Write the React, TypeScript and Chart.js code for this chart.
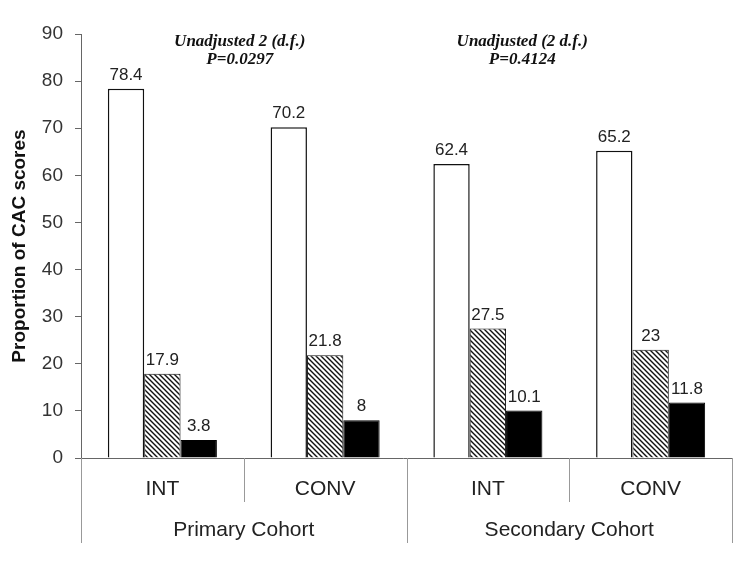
import React, { useEffect, useRef } from "react";
import { Chart, registerables } from "chart.js";

Chart.register(...registerables);

const categories = ["INT", "CONV", "INT", "CONV"];
const cohorts = ["Primary Cohort", "Secondary Cohort"];
const whiteValues = [78.4, 70.2, 62.4, 65.2];
const hatchedValues = [17.9, 21.8, 27.5, 23];
const blackValues = [3.8, 8, 10.1, 11.8];
const yMin = 0;
const yMax = 90;
const yStep = 10;
const yTitle = "Proportion of CAC scores";
const annotationLines = [
  ["Unadjusted 2 (d.f.)", "P=0.0297"],
  ["Unadjusted (2 d.f.)", "P=0.4124"],
];

function makeHatch(): CanvasPattern | string {
  const c = document.createElement("canvas");
  const s = 5;
  c.width = s;
  c.height = s;
  const g = c.getContext("2d");
  if (!g) return "#777";
  g.fillStyle = "#fff";
  g.fillRect(0, 0, s, s);
  g.strokeStyle = "#111";
  g.lineWidth = 1.4;
  g.beginPath();
  g.moveTo(-1, -1);
  g.lineTo(s + 1, s + 1);
  g.moveTo(-1 - s, -1);
  g.lineTo(1, s + 1);
  g.moveTo(s - 1, -1);
  g.lineTo(2 * s + 1, s + 1);
  g.stroke();
  const p = g.createPattern(c, "repeat");
  return p || "#777";
}

const overlayPlugin = {
  id: "overlay",
  afterDatasetsDraw(chart: any) {
    const ctx = chart.ctx;
    ctx.save();
    ctx.font = "17px Arial, 'Liberation Sans', sans-serif";
    ctx.fillStyle = "#222";
    ctx.textAlign = "center";
    ctx.textBaseline = "bottom";
    chart.data.datasets.forEach((ds: any, di: number) => {
      const meta = chart.getDatasetMeta(di);
      meta.data.forEach((el: any, i: number) => {
        ctx.fillText(String(ds.data[i]), el.x, el.y - 5);
      });
    });
    ctx.restore();
  },
  afterDraw(chart: any) {
    const ctx = chart.ctx;
    const area = chart.chartArea;
    const xs = chart.scales.x;
    const bottom = area.bottom;
    ctx.save();
    // x axis line
    ctx.strokeStyle = "#666";
    ctx.lineWidth = 1;
    ctx.beginPath();
    ctx.moveTo(area.left - 6, bottom + 0.5);
    ctx.lineTo(area.right, bottom + 0.5);
    ctx.stroke();
    // category boundaries
    const n = categories.length;
    const bounds: number[] = [];
    for (let i = 0; i <= n; i++) {
      if (i === 0) bounds.push(area.left);
      else if (i === n) bounds.push(area.right);
      else bounds.push((xs.getPixelForValue(i - 1) + xs.getPixelForValue(i)) / 2);
    }
    ctx.strokeStyle = "#999";
    bounds.forEach((bx, i) => {
      const long = i % 2 === 0;
      ctx.beginPath();
      ctx.moveTo(Math.round(bx) + 0.5, bottom);
      ctx.lineTo(Math.round(bx) + 0.5, bottom + (long ? 85 : 44));
      ctx.stroke();
    });
    // category labels
    ctx.fillStyle = "#222";
    ctx.textAlign = "center";
    ctx.textBaseline = "middle";
    ctx.font = "21px Arial, 'Liberation Sans', sans-serif";
    categories.forEach((c, i) => {
      ctx.fillText(c, xs.getPixelForValue(i), bottom + 31);
    });
    cohorts.forEach((c, g) => {
      const cx = (bounds[g * 2] + bounds[g * 2 + 2]) / 2;
      ctx.fillText(c, cx, bottom + 72);
    });
    // annotations
    ctx.font = "bold italic 17px 'Times New Roman', 'Liberation Serif', serif";
    ctx.fillStyle = "#111";
    const annOffsets = [-4, -47];
    annotationLines.forEach((lines, g) => {
      const cx = bounds[g * 2 + 1] + annOffsets[g];
      lines.forEach((t, li) => {
        ctx.fillText(t, cx, area.top + 8 + li * 18);
      });
    });
    ctx.restore();
  },
};

export default function App() {
  const ref = useRef<HTMLCanvasElement | null>(null);
  useEffect(() => {
    if (!ref.current) return;
    const hatch = makeHatch();
    const chart = new Chart(ref.current, {
      type: "bar",
      data: {
        labels: categories,
        datasets: [
          {
            data: whiteValues,
            backgroundColor: "#fff",
            borderColor: "#111",
            borderWidth: 1.5,
          },
          {
            data: hatchedValues,
            backgroundColor: hatch as any,
            borderColor: "#111",
            borderWidth: 1,
          },
          {
            data: blackValues,
            backgroundColor: "#000",
            borderColor: "#000",
            borderWidth: 1,
          },
        ],
      },
      options: {
        animation: false,
        responsive: true,
        maintainAspectRatio: false,
        layout: { padding: { top: 34, right: 18, left: 0, bottom: 0 } },
        datasets: { bar: { barPercentage: 1, categoryPercentage: 0.67 } },
        plugins: {
          legend: { display: false },
          tooltip: { enabled: false },
        },
        scales: {
          x: {
            grid: { display: false },
            border: { display: false },
            ticks: { display: false },
            afterFit: (s: any) => {
              s.height = 112;
            },
          },
          y: {
            min: yMin,
            max: yMax,
            ticks: {
              stepSize: yStep,
              color: "#333",
              padding: 12,
              font: { size: 19, family: "Arial, 'Liberation Sans', sans-serif" },
            },
            grid: { drawOnChartArea: false, tickLength: 6, color: "#666" },
            border: { color: "#666", width: 1 },
            title: {
              display: true,
              text: yTitle,
              color: "#111",
              padding: { top: 8, bottom: 0 },
              font: { size: 19, weight: "bold", family: "Arial, 'Liberation Sans', sans-serif" },
            },
            afterFit: (s: any) => {
              s.width = 81;
            },
          },
        },
      },
      plugins: [overlayPlugin],
    });
    return () => chart.destroy();
  }, []);
  return (
    <div style={{ position: "absolute", left: 0, top: 0, width: 750, height: 570, background: "#fff" }}>
      <canvas ref={ref} />
    </div>
  );
}
